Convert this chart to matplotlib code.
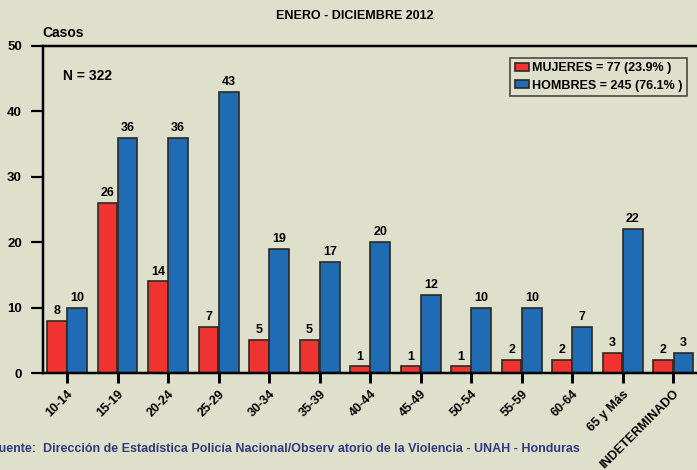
import matplotlib.pyplot as plt
import numpy as np

# datos por grupo de edad
grupos = ['10-14', '15-19', '20-24', '25-29', '30-34', '35-39', '40-44',
          '45-49', '50-54', '55-59', '60-64', '65 y Más', 'INDETERMINADO']
mujeres = [8, 26, 14, 7, 5, 5, 1, 1, 1, 2, 2, 3, 2]
hombres = [10, 36, 36, 43, 19, 17, 20, 12, 10, 10, 7, 22, 3]
etiquetas = ['MUJERES = 77 (23.9% )', 'HOMBRES = 245 (76.1% )']

plt.rcParams['font.family'] = ['Liberation Sans', 'DejaVu Sans']
plt.rcParams['font.weight'] = 'bold'

fondo = '#DFE0CB'
rojo = '#EE3330'
azul = '#1F6BB4'
borde = '#2A2A22'
px = 0.72  # puntos por pixel a 100 dpi

fig = plt.figure(figsize=(6.97, 4.70), dpi=100, facecolor=fondo)
ax = fig.add_axes([43 / 697, 1 - 373 / 470, 1 - 43 / 697, (373 - 46) / 470])
ax.set_facecolor(fondo)

x = np.arange(len(grupos))
w = 0.39
b1 = ax.bar(x - 0.2, mujeres, w, color=rojo, edgecolor=borde, linewidth=1.2, label=etiquetas[0])
b2 = ax.bar(x + 0.2, hombres, w, color=azul, edgecolor=borde, linewidth=1.2, label=etiquetas[1])

for bars in (b1, b2):
    for r in bars:
        ax.text(r.get_x() + r.get_width() / 2, r.get_height() + 0.6, str(int(r.get_height())),
                ha='center', va='bottom', fontsize=9, fontweight='bold')

ax.set_xlim(-0.475, 12.47)
ax.set_ylim(0, 50)
ax.set_yticks([0, 10, 20, 30, 40, 50])
ax.tick_params(axis='y', length=12 * px, width=2.2 * px, labelsize=9.5, pad=9 * px)
ax.set_xticks(x)
ax.set_xticklabels(grupos, rotation=45, ha='right', rotation_mode='anchor', fontsize=9)
ax.tick_params(axis='x', length=10 * px, width=3 * px, pad=5 * px)

for s in ['left', 'bottom', 'top']:
    ax.spines[s].set_linewidth(2.5 * px)
ax.spines['right'].set_visible(False)

leg = ax.legend(loc='upper right', bbox_to_anchor=(0.985, 0.964), fontsize=9, frameon=True,
                fancybox=False, edgecolor='#222222', facecolor=fondo, handlelength=1.1,
                handleheight=0.6, handletextpad=0.3, borderpad=0.35, labelspacing=0.45,
                borderaxespad=0)
leg.get_frame().set_linewidth(1.2)

ax.text(0.03, 0.895, 'N = 322', transform=ax.transAxes, fontsize=10, fontweight='bold')
fig.text(42 / 697, 1 - 33 / 470, 'Casos', fontsize=10, fontweight='bold', va='center')
fig.text(355 / 697, 1 - 16 / 470, 'ENERO - DICIEMBRE 2012', fontsize=9, fontweight='bold',
         ha='center', va='center')
fig.text(-9 / 697, 1 - 449 / 470,
         'Fuente:  Dirección de Estadística Policía Nacional/Observ atorio de la Violencia - UNAH - Honduras',
         fontsize=9, fontweight='bold', color='#2E3A7C', va='center')

fig.savefig('out.png', dpi=100, facecolor=fondo)
